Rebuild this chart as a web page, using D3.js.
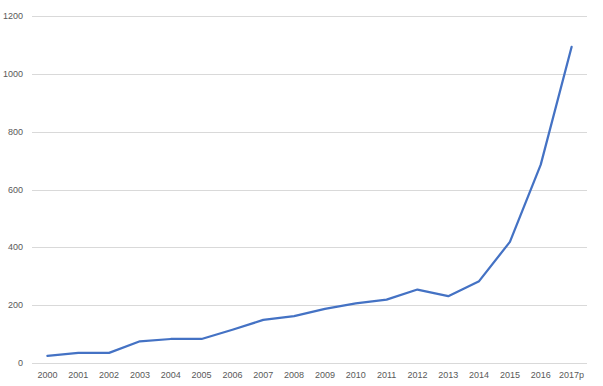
<!DOCTYPE html>
<html>
<head>
<meta charset="utf-8">
<script src="https://cdn.jsdelivr.net/npm/d3@7"></script>
<style>
	body { margin: 0; background: #fff; }
	svg text { font-family: "Liberation Sans", "DejaVu Sans", sans-serif; font-size: 9px; fill: #595959; }
</style>
</head>
<body>
<div id="chart"></div>
<script>
var years = ["2000","2001","2002","2003","2004","2005","2006","2007","2008","2009","2010","2011","2012","2013","2014","2015","2016","2017p"];
var values = [25, 35, 35, 75, 83, 83, 115, 149, 162, 187, 206, 219, 254, 231, 283, 419, 686, 1093];
var yTicks = [0, 200, 400, 600, 800, 1000, 1200];

var width = 603, height = 386;
var margin = {top: 16, right: 16, bottom: 23, left: 32};

var svg = d3.select("#chart").append("svg")
	.attr("width", width)
	.attr("height", height);

// echelles
var x = d3.scaleBand()
	.domain(years)
	.range([margin.left, width - margin.right]);

var y = d3.scaleLinear()
	.domain([0, 1200])
	.range([height - margin.bottom, margin.top]);

// grille
svg.append("g")
	.selectAll("line")
	.data(yTicks)
	.enter().append("line")
	.attr("x1", margin.left)
	.attr("x2", width - margin.right)
	.attr("y1", function(d) { return Math.round(y(d)) + 0.5; })
	.attr("y2", function(d) { return Math.round(y(d)) + 0.5; })
	.attr("stroke", "#d9d9d9")
	.attr("stroke-width", 1);

// labels axe y
svg.append("g")
	.selectAll("text")
	.data(yTicks)
	.enter().append("text")
	.attr("x", 23)
	.attr("y", function(d) { return y(d); })
	.attr("dy", "0.35em")
	.attr("text-anchor", "end")
	.text(function(d) { return d; });

// labels axe x
svg.append("g")
	.selectAll("text")
	.data(years)
	.enter().append("text")
	.attr("x", function(d) { return x(d) + x.bandwidth() / 2; })
	.attr("y", height - margin.bottom + 12)
	.attr("dy", "0.35em")
	.attr("text-anchor", "middle")
	.text(function(d) { return d; });

// courbe
svg.append("path")
	.datum(values)
	.attr("fill", "none")
	.attr("stroke", "#4472c4")
	.attr("stroke-width", 2.25)
	.attr("stroke-linejoin", "round")
	.attr("stroke-linecap", "round")
	.attr("d", d3.line()
		.x(function(d, i) { return x(years[i]) + x.bandwidth() / 2; })
		.y(function(d) { return y(d); }));
</script>
</body>
</html>
